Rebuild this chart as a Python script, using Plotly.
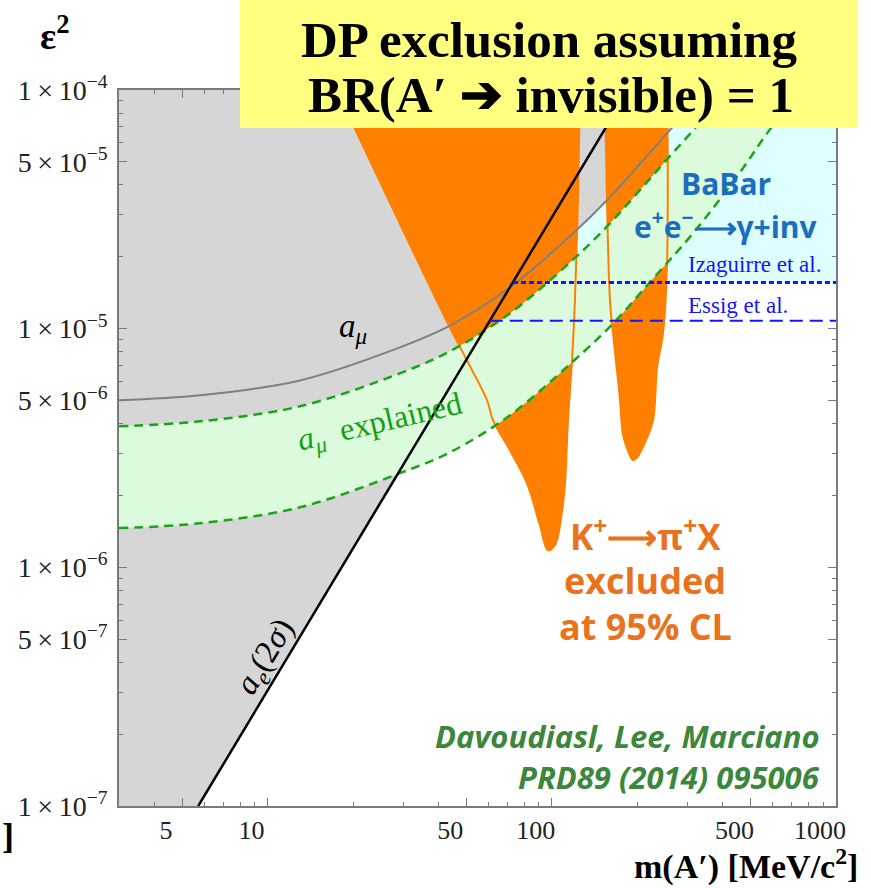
import math
import plotly.graph_objects as go

# ---------------- data ----------------
m_range = [3, 1000]          # MeV/c^2
eps_range = [1e-7, 1e-4]     # epsilon^2

x_tickvals = [5, 10, 50, 100, 500, 1000]
x_ticktext = ["5", "10", "50", "100", "500", "1000"]
y_tickvals = [1e-7, 5e-7, 1e-6, 5e-6, 1e-5, 5e-5, 1e-4]
y_ticktext = ["1\u2009×\u200910<sup>−7</sup>", "5\u2009×\u200910<sup>−7</sup>",
              "1\u2009×\u200910<sup>−6</sup>", "5\u2009×\u200910<sup>−6</sup>",
              "1\u2009×\u200910<sup>−5</sup>", "5\u2009×\u200910<sup>−5</sup>",
              "1\u2009×\u200910<sup>−4</sup>"]
x_minor = [3, 4, 6, 7, 8, 9, 20, 30, 40, 60, 70, 80, 90,
           200, 300, 400, 600, 700, 800, 900]
y_minor = [k * 10.0 ** e for e in (-7, -6, -5) for k in (2, 3, 4, 6, 7, 8, 9)]

# a_e (2 sigma) line
ae_m = [5.7, 186]
ae_eps = [1e-7, 1e-4]

# a_mu curve
amu_m = [3, 5.78, 13, 29.2, 43.8, 71.3, 118.9, 156.4, 254.2, 346]
amu_eps = [5.01e-6, 5.26e-6, 6.07e-6, 8.35e-6, 1.03e-5, 1.49e-5, 2.51e-5,
           3.45e-5, 6.58e-5, 1e-4]

# "a_mu explained" band
band_up_m = [3, 5.78, 13, 29.2, 43.8, 71.3, 118.9, 156.4, 254.2, 332, 407]
band_up_eps = [3.90e-6, 4.09e-6, 4.73e-6, 6.50e-6, 8.04e-6, 1.16e-5, 1.95e-5,
               2.68e-5, 5.12e-5, 7.31e-5, 1e-4]
band_lo_m = [3, 5.78, 13, 29.2, 43.8, 71.3, 118.9, 164.2, 227, 314, 459, 572, 747]
band_lo_eps = [1.46e-6, 1.53e-6, 1.785e-6, 2.48e-6, 3.03e-6, 4.34e-6, 7.30e-6,
               1.05e-5, 1.62e-5, 2.51e-5, 4.51e-5, 6.58e-5, 1e-4]

# K+ -> pi+ X exclusion, first region
k1_m = [17.5, 43.8, 50.3, 59.2, 62.1, 71.3, 81.8, 90.8, 96.9, 102.6, 108.7,
        111.3, 114.0, 117.8, 120.6, 123.6, 125.7]
k1_eps = [1e-4, 1.01e-5, 7.36e-6, 5.01e-6, 4.13e-6, 3.09e-6, 2.25e-6, 1.50e-6,
          1.18e-6, 1.24e-6, 1.73e-6, 2.25e-6, 4.13e-6, 7.36e-6, 1.31e-5,
          3.45e-5, 1e-4]
# K+ -> pi+ X exclusion, second region
k2_m = [153.9, 160.2, 164.2, 170.0, 173.8, 178.0, 185.0, 193.2, 199.6, 213,
        227, 234.6, 246.1, 254.2, 255.0]
k2_eps = [1e-4, 1.31e-5, 9.56e-6, 6.5e-6, 5.01e-6, 3.6e-6, 3.1e-6, 2.81e-6,
          2.89e-6, 3.35e-6, 4.13e-6, 6.88e-6, 9.56e-6, 1.81e-5, 1e-4]

# BaBar-type limits
iz_m = [73, 1000]
iz_eps = [1.56e-5, 1.56e-5]
es_m = [60.5, 1000]
es_eps = [1.08e-5, 1.08e-5]

# ---------------- styles ----------------
GRAY_FILL = "rgb(214,214,214)"
CYAN_FILL = "rgb(221,255,255)"
GREEN_FILL = "rgb(220,251,220)"
ORANGE = "rgb(255,128,0)"
GREEN_LINE = "rgb(25,165,25)"
BLUE = "rgb(20,20,255)"
SERIF = "Liberation Serif"
SANS = "Open Sans"

fig = go.Figure()


def area(xs, ys, color, shape="linear"):
    fig.add_trace(go.Scatter(x=xs, y=ys, mode="lines", fill="toself",
                             fillcolor=color,
                             line=dict(width=0, color=color, shape=shape),
                             hoverinfo="skip", showlegend=False))


def curve(xs, ys, color, width, dash="solid", shape="spline", fill=None,
          fillcolor=None):
    fig.add_trace(go.Scatter(x=xs, y=ys, mode="lines", fill=fill,
                             fillcolor=fillcolor,
                             line=dict(color=color, width=width, dash=dash,
                                       shape=shape),
                             hoverinfo="skip", showlegend=False))


# BaBar region (above Izaguirre line)
area([iz_m[0], iz_m[1], m_range[1], iz_m[0]],
     [iz_eps[0], iz_eps[1], eps_range[1], eps_range[1]], CYAN_FILL)
# a_e exclusion (left of line)
area([m_range[0], ae_m[0], ae_m[1], m_range[0]],
     [eps_range[0], ae_eps[0], ae_eps[1], eps_range[1]], GRAY_FILL)
# a_mu exclusion (above the a_mu curve)
curve([amu_m[0], amu_m[-1]], [eps_range[1], eps_range[1]], GRAY_FILL, 0,
      shape="linear")
curve(amu_m, amu_eps, GRAY_FILL, 0, fill="tonexty", fillcolor=GRAY_FILL)
# K -> pi X regions
area(k1_m, k1_eps, ORANGE, "spline")
area(k2_m, k2_eps, ORANGE, "spline")
# a_mu explained band
curve(band_up_m, band_up_eps, GREEN_FILL, 0)
curve(band_lo_m, band_lo_eps, GREEN_FILL, 0, fill="tonexty", fillcolor=GREEN_FILL)
# outlines of the K regions
curve(k1_m, k1_eps, ORANGE, 2)
curve(k2_m, k2_eps, ORANGE, 2)
# lines
curve(amu_m, amu_eps, "rgb(128,128,128)", 2)
curve(band_up_m, band_up_eps, GREEN_LINE, 2.5, "9px,6px")
curve(band_lo_m, band_lo_eps, GREEN_LINE, 2.5, "9px,6px")
curve(ae_m, ae_eps, "black", 2.5, shape="linear")
curve(iz_m, iz_eps, BLUE, 3, "5px,3px", shape="linear")
curve(es_m, es_eps, BLUE, 2, "13px,7px", shape="linear")

# ---------------- layout ----------------
L, R, T, B = 119, 35, 90, 82
W, H = 871, 888
PW, PH = W - L - R, H - T - B


def px(x):
    return (x - L) / PW


def py(y):
    return (H - B - y) / PH


axis_common = dict(type="log", showgrid=False, zeroline=False, showline=True,
                   linecolor="#7a7a7a", linewidth=1.5, mirror="ticks",
                   ticks="inside", ticklen=8, tickwidth=1.2, tickcolor="#7a7a7a")

fig.update_layout(
    width=W, height=H, margin=dict(l=L, r=R, t=T, b=B),
    paper_bgcolor="white", plot_bgcolor="white", showlegend=False,
    xaxis=dict(range=[math.log10(m_range[0]), math.log10(m_range[1])],
               tickvals=x_tickvals, ticktext=x_ticktext,
               minor=dict(tickvals=x_minor, ticks="inside", ticklen=4,
                          tickcolor="#7a7a7a", tickwidth=1),
               ticklabelshift=-16,
               tickfont=dict(family=SERIF, size=26, color="#222"),
               **axis_common),
    yaxis=dict(range=[math.log10(eps_range[0]), math.log10(eps_range[1])],
               tickvals=y_tickvals, ticktext=y_ticktext,
               minor=dict(tickvals=y_minor, ticks="inside", ticklen=4,
                          tickcolor="#7a7a7a", tickwidth=1),
               ticklabelstandoff=4,
               tickfont=dict(family=SERIF, size=28, color="#222"),
               **axis_common),
)

# yellow title box
fig.add_shape(type="rect", xref="paper", yref="paper",
              x0=px(240), x1=px(858), y0=py(128), y1=py(0),
              fillcolor="rgb(255,255,128)", line=dict(width=0), layer="above")


def note(text, x, y, size, color="black", family=SERIF, angle=0,
         xanchor="center", yanchor="middle"):
    fig.add_annotation(text=text, xref="paper", yref="paper", x=px(x), y=py(y),
                       showarrow=False, textangle=angle, xanchor=xanchor,
                       yanchor=yanchor, font=dict(family=family, size=size, color=color))


note("<b>DP exclusion assuming</b>", 549, 40, 51)
note("<b>BR(A′ \u2794 invisible) = 1</b>", 551, 95, 51)
note("<b>ε<sup>2</sup></b>", 55, 33, 38)
note("<b>m(A′) [MeV/c<sup>2</sup>]</b>", 860, 888, 34, xanchor="right",
     yanchor="bottom")
note("<b>]</b>", 8, 836, 36)

note("<b>BaBar</b>", 726, 183, 30, color="rgb(25,110,190)", family=SANS)
note("<b>e<sup>+</sup>e<sup>−</sup>\u27f6γ+inv</b>", 726, 225, 30,
     color="rgb(25,110,190)", family=SANS)
note("Izaguirre et al.", 686, 264, 23, color=BLUE, xanchor="left")
note("Essig et al.", 686, 305, 23, color=BLUE, xanchor="left")

note("<i>a</i><sub><i>μ</i></sub>", 353, 328, 33)
note("<i>a</i><sub><i>μ</i></sub>  explained", 380, 423, 32,
     color="rgb(20,160,20)", angle=-13)
note("<i>a</i><sub><i>e</i></sub>(2<i>σ</i>)", 266, 657, 33, angle=-59)

OR_TXT = "rgb(232,115,28)"
note("<b>K<sup>+</sup>\u27f6π<sup>+</sup>X</b>", 645, 534, 35, color=OR_TXT, family=SANS)
note("<b>excluded</b>", 645, 580, 36, color=OR_TXT, family=SANS)
note("<b>at 95% CL</b>", 645, 626, 36, color=OR_TXT, family=SANS)

GR_TXT = "rgb(60,135,60)"
note("<b><i>Davoudiasl, Lee, Marciano</i></b>", 822, 736, 31, color=GR_TXT,
     family=SANS, xanchor="right")
note("<b><i>PRD89 (2014) 095006</i></b>", 822, 777, 31, color=GR_TXT,
     family=SANS, xanchor="right")

fig.write_html("out.html")
